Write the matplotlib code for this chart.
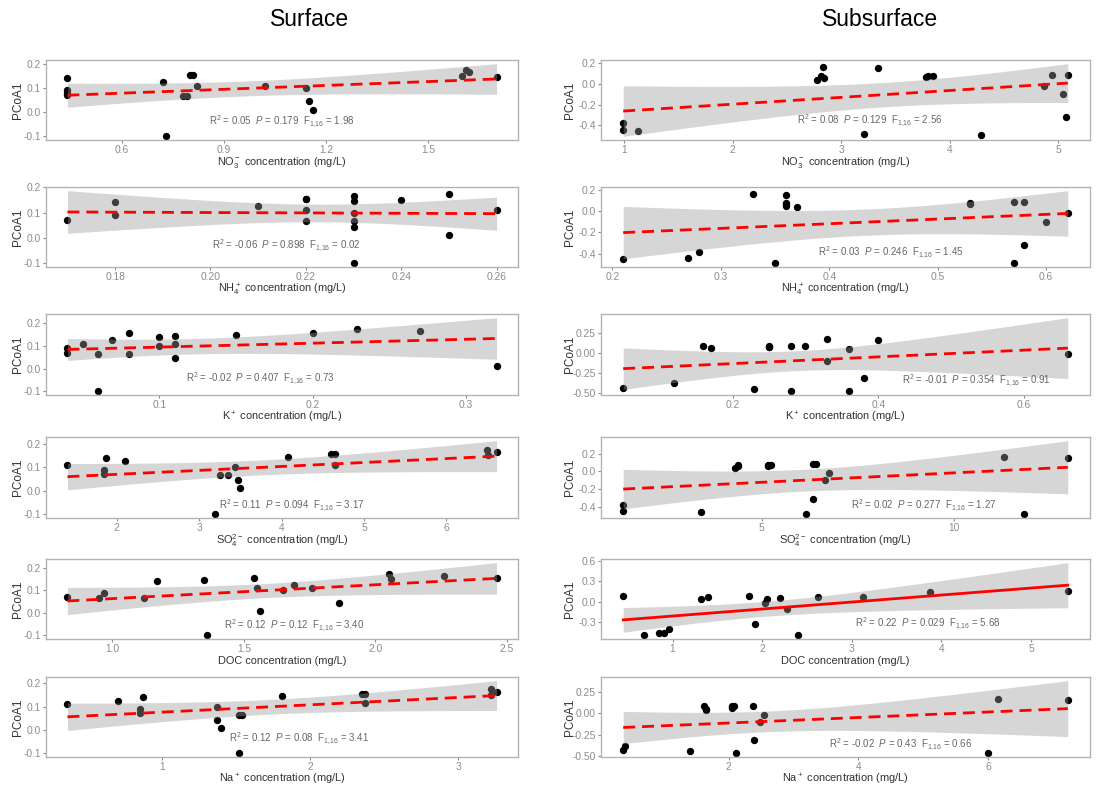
import numpy as np
import matplotlib
matplotlib.use("Agg")
import matplotlib.pyplot as plt
from matplotlib.ticker import FormatStrFormatter

plt.rcParams["font.family"] = ["Liberation Sans", "DejaVu Sans"]
plt.rcParams["mathtext.fontset"] = "custom"
plt.rcParams["mathtext.rm"] = "Liberation Sans"
plt.rcParams["mathtext.it"] = "Liberation Sans:italic"
plt.rcParams["mathtext.bf"] = "Liberation Sans:bold"

# ---- Surface data ----
surf_no3_x = [0.44, 0.44, 0.44, 0.44, 0.72, 0.73, 0.78, 0.79, 0.80, 0.81, 0.82, 1.02, 1.14, 1.15, 1.16, 1.60, 1.61, 1.62, 1.70]
surf_no3_y = [0.14, 0.09, 0.08, 0.07, 0.125, -0.10, 0.065, 0.065, 0.155, 0.155, 0.11, 0.11, 0.10, 0.045, 0.01, 0.15, 0.175, 0.165, 0.145]

surf_nh4_x = [0.17, 0.18, 0.18, 0.21, 0.22, 0.22, 0.22, 0.22, 0.23, 0.23, 0.23, 0.23, 0.23, 0.23, 0.24, 0.25, 0.25, 0.26]
surf_nh4_y = [0.07, 0.14, 0.09, 0.125, 0.155, 0.155, 0.11, 0.065, 0.165, 0.145, 0.10, 0.065, 0.045, -0.10, 0.15, 0.175, 0.01, 0.11]

surf_k_x = [0.04, 0.04, 0.05, 0.06, 0.06, 0.069, 0.08, 0.08, 0.10, 0.10, 0.11, 0.11, 0.11, 0.15, 0.20, 0.229, 0.27, 0.32]
surf_k_y = [0.09, 0.07, 0.11, 0.065, -0.10, 0.125, 0.155, 0.065, 0.14, 0.10, 0.145, 0.11, 0.045, 0.15, 0.155, 0.175, 0.165, 0.01]

surf_so4_x = [1.40, 1.84, 1.84, 1.87, 2.10, 3.19, 3.25, 3.35, 3.43, 3.47, 3.50, 4.08, 4.60, 4.65, 4.65, 6.50, 6.51, 6.61]
surf_so4_y = [0.11, 0.09, 0.07, 0.14, 0.125, -0.10, 0.065, 0.065, 0.10, 0.045, 0.01, 0.145, 0.155, 0.155, 0.11, 0.175, 0.15, 0.165]

surf_doc_x = [0.83, 0.95, 0.97, 1.12, 1.17, 1.35, 1.36, 1.54, 1.55, 1.56, 1.65, 1.69, 1.76, 1.86, 2.05, 2.06, 2.26, 2.46]
surf_doc_y = [0.07, 0.065, 0.09, 0.065, 0.14, 0.145, -0.10, 0.155, 0.11, 0.01, 0.10, 0.125, 0.11, 0.045, 0.175, 0.15, 0.165, 0.155]

surf_na_x = [0.36, 0.70, 0.85, 0.85, 0.87, 1.37, 1.37, 1.40, 1.52, 1.52, 1.54, 1.81, 2.35, 2.37, 2.37, 3.22, 3.22, 3.26]
surf_na_y = [0.11, 0.125, 0.09, 0.075, 0.14, 0.10, 0.045, 0.01, 0.065, -0.10, 0.065, 0.145, 0.155, 0.155, 0.115, 0.175, 0.15, 0.165]

# ---- Subsurface data ----
sub_no3_x = [0.99, 0.99, 1.13, 2.78, 2.81, 2.83, 2.84, 3.21, 3.34, 3.78, 3.80, 3.85, 4.29, 4.87, 4.94, 5.05, 5.07, 5.09]
sub_no3_y = [-0.38, -0.44, -0.45, 0.04, 0.075, 0.16, 0.055, -0.48, 0.15, 0.065, 0.075, 0.075, -0.49, -0.02, 0.085, -0.10, -0.32, 0.085]

sub_nh4_x = [0.21, 0.27, 0.28, 0.33, 0.35, 0.36, 0.36, 0.36, 0.36, 0.37, 0.53, 0.53, 0.57, 0.57, 0.58, 0.58, 0.60, 0.62]
sub_nh4_y = [-0.45, -0.44, -0.38, 0.16, -0.49, 0.15, 0.08, 0.065, 0.05, 0.035, 0.075, 0.065, 0.085, -0.49, 0.085, -0.32, -0.10, -0.02]

sub_k_x = [0.05, 0.12, 0.16, 0.17, 0.23, 0.25, 0.25, 0.25, 0.28, 0.28, 0.30, 0.33, 0.33, 0.36, 0.36, 0.38, 0.40, 0.66]
sub_k_y = [-0.44, -0.38, 0.08, 0.055, -0.45, 0.07, 0.08, 0.065, 0.085, -0.48, 0.08, 0.165, -0.10, 0.04, -0.48, -0.31, 0.155, -0.02]

sub_so4_x = [1.40, 1.40, 3.43, 4.32, 4.39, 4.39, 5.17, 5.17, 5.24, 6.16, 6.33, 6.33, 6.41, 6.66, 6.75, 11.31, 11.83, 12.97]
sub_so4_y = [-0.44, -0.38, -0.45, 0.04, 0.06, 0.075, 0.065, 0.075, 0.075, -0.48, 0.085, -0.31, 0.085, -0.10, -0.02, 0.165, -0.48, 0.155]

sub_doc_x = [0.45, 0.68, 0.85, 0.91, 0.96, 1.32, 1.40, 1.85, 1.92, 2.03, 2.05, 2.20, 2.28, 2.40, 2.62, 3.12, 3.87, 5.41]
sub_doc_y = [0.085, -0.48, -0.45, -0.45, -0.39, 0.05, 0.075, 0.085, -0.32, -0.02, 0.04, 0.065, -0.10, -0.49, 0.075, 0.075, 0.15, 0.16]

sub_na_x = [0.38, 0.41, 1.40, 1.62, 1.65, 1.65, 2.05, 2.05, 2.06, 2.08, 2.12, 2.37, 2.39, 2.48, 2.54, 6.00, 6.14, 7.22]
sub_na_y = [-0.43, -0.38, -0.44, 0.08, 0.05, 0.04, 0.08, 0.075, 0.065, 0.08, -0.47, 0.085, -0.31, -0.10, -0.02, -0.47, 0.165, 0.155]

xlabels = [r"NO$_3^-$ concentration (mg/L)", r"NH$_4^+$ concentration (mg/L)", r"K$^+$ concentration (mg/L)",
           r"SO$_4^{2-}$ concentration (mg/L)", "DOC concentration (mg/L)", r"Na$^+$ concentration (mg/L)"]

surf_stats = [("0.05", "0.179", "1.98"), ("-0.06", "0.898", "0.02"), ("-0.02", "0.407", "0.73"),
              ("0.11", "0.094", "3.17"), ("0.12", "0.12", "3.40"), ("0.12", "0.08", "3.41")]
sub_stats = [("0.08", "0.129", "2.56"), ("0.03", "0.246", "1.45"), ("-0.01", "0.354", "0.91"),
             ("0.02", "0.277", "1.27"), ("0.22", "0.029", "5.68"), ("-0.02", "0.43", "0.66")]

surf_xticks = [[0.6, 0.9, 1.2, 1.5], [0.18, 0.20, 0.22, 0.24, 0.26], [0.1, 0.2, 0.3], [2, 3, 4, 5, 6], [1.0, 1.5, 2.0, 2.5], [1, 2, 3]]
sub_xticks = [[1, 2, 3, 4, 5], [0.2, 0.3, 0.4, 0.5, 0.6], [0.2, 0.4, 0.6], [5, 10], [1, 2, 3, 4, 5], [2, 4, 6]]
surf_yticks = [[-0.1, 0.0, 0.1, 0.2]] * 6
sub_yticks = [[-0.4, -0.2, 0.0, 0.2], [-0.4, -0.2, 0.0, 0.2], [-0.5, -0.25, 0.0, 0.25],
              [-0.4, -0.2, 0.0, 0.2], [-0.3, 0.0, 0.3, 0.6], [-0.5, -0.25, 0.0, 0.25]]

surf_data = [(surf_no3_x, surf_no3_y), (surf_nh4_x, surf_nh4_y), (surf_k_x, surf_k_y),
             (surf_so4_x, surf_so4_y), (surf_doc_x, surf_doc_y), (surf_na_x, surf_na_y)]
sub_data = [(sub_no3_x, sub_no3_y), (sub_nh4_x, sub_nh4_y), (sub_k_x, sub_k_y),
            (sub_so4_x, sub_so4_y), (sub_doc_x, sub_doc_y), (sub_na_x, sub_na_y)]

# layout (pixels)
W, H = 1105, 787
rows = [(60, 140), (187, 267), (314, 395), (437, 518), (559, 639), (677, 757)]
cols = [(46, 518), (601, 1090)]
ylab_off = [28, 31]
surf_txt = [(0.50, 0.23), (0.51, 0.26), (0.455, 0.20), (0.52, 0.15), (0.525, 0.16), (0.535, 0.22)]
sub_txt = [(0.55, 0.24), (0.593, 0.18), (0.767, 0.175), (0.66, 0.15), (0.668, 0.19), (0.613, 0.15)]

T16 = 2.12  # t quantile, df = 16, 95%

fig = plt.figure(figsize=(W / 100, H / 100), dpi=100)


def panel(col, row, xy, xt, yt, xlab, stats, tpos, solid=False):
    l, r = cols[col]
    t, b = rows[row]
    ax = fig.add_axes([l / W, 1 - b / H, (r - l) / W, (b - t) / H])
    x = np.array(xy[0], dtype=float)
    y = np.array(xy[1], dtype=float)
    ax.scatter(x, y, s=28, color="black", zorder=2, linewidths=0)
    # linear fit + 95% CI
    n = len(x)
    b1, b0 = np.polyfit(x, y, 1)
    res = y - (b0 + b1 * x)
    s = np.sqrt(np.sum(res ** 2) / (n - 2))
    xs = np.linspace(x.min(), x.max(), 80)
    fit = b0 + b1 * xs
    se = s * np.sqrt(1 / n + (xs - x.mean()) ** 2 / np.sum((x - x.mean()) ** 2))
    ax.fill_between(xs, fit - T16 * se, fit + T16 * se, color="#999999", alpha=0.4, lw=0, zorder=3)
    if solid:
        ax.plot(xs, fit, color="red", lw=2.0, zorder=4)
    else:
        ax.plot(xs, fit, color="red", lw=2.0, zorder=4, dashes=(4.3, 2.5))
    ax.margins(0.05)
    ax.set_xticks(xt)
    ax.set_yticks(yt)
    fx = "%.2f" if xt[1] - xt[0] < 0.05 else ("%.1f" if any(v != int(v) for v in xt) else "%d")
    ax.xaxis.set_major_formatter(FormatStrFormatter(fx))
    fy = "%.2f" if any(round(v * 100) % 10 for v in yt) else "%.1f"
    ax.yaxis.set_major_formatter(FormatStrFormatter(fy))
    for sp in ax.spines.values():
        sp.set_color("#b3b3b3")
        sp.set_linewidth(1.0)
    ax.tick_params(colors="#8c8c8c", labelsize=7.4, length=2.5, width=0.8, pad=1.2)
    ax.set_xlabel(xlab, fontsize=7.9, color="#333333", va="baseline")
    ax.xaxis.set_label_coords(0.5, -25.5 / (b - t))
    ax.set_ylabel("PCoA1", fontsize=8.5, color="#333333", va="center")
    ax.yaxis.set_label_coords(-ylab_off[col] / (r - l), 0.5)
    r2, p, f = stats
    ax.text(tpos[0], tpos[1], r"R$^2$ = %s  $\it{P}$ = %s  F$_{1{,}16}$ = %s" % (r2, p, f),
            transform=ax.transAxes, ha="center", va="center", fontsize=7, color="#666666", zorder=5)
    return ax


for i in range(6):
    panel(0, i, surf_data[i], surf_xticks[i], surf_yticks[i], xlabels[i], surf_stats[i], surf_txt[i])
    panel(1, i, sub_data[i], sub_xticks[i], sub_yticks[i], xlabels[i], sub_stats[i], sub_txt[i], solid=(i == 4))

fig.text(310 / W, 1 - 19 / H, "Surface", ha="center", va="center", fontsize=16.5)
fig.text(880 / W, 1 - 19 / H, "Subsurface", ha="center", va="center", fontsize=16.5)

fig.savefig("out.png", dpi=100)
